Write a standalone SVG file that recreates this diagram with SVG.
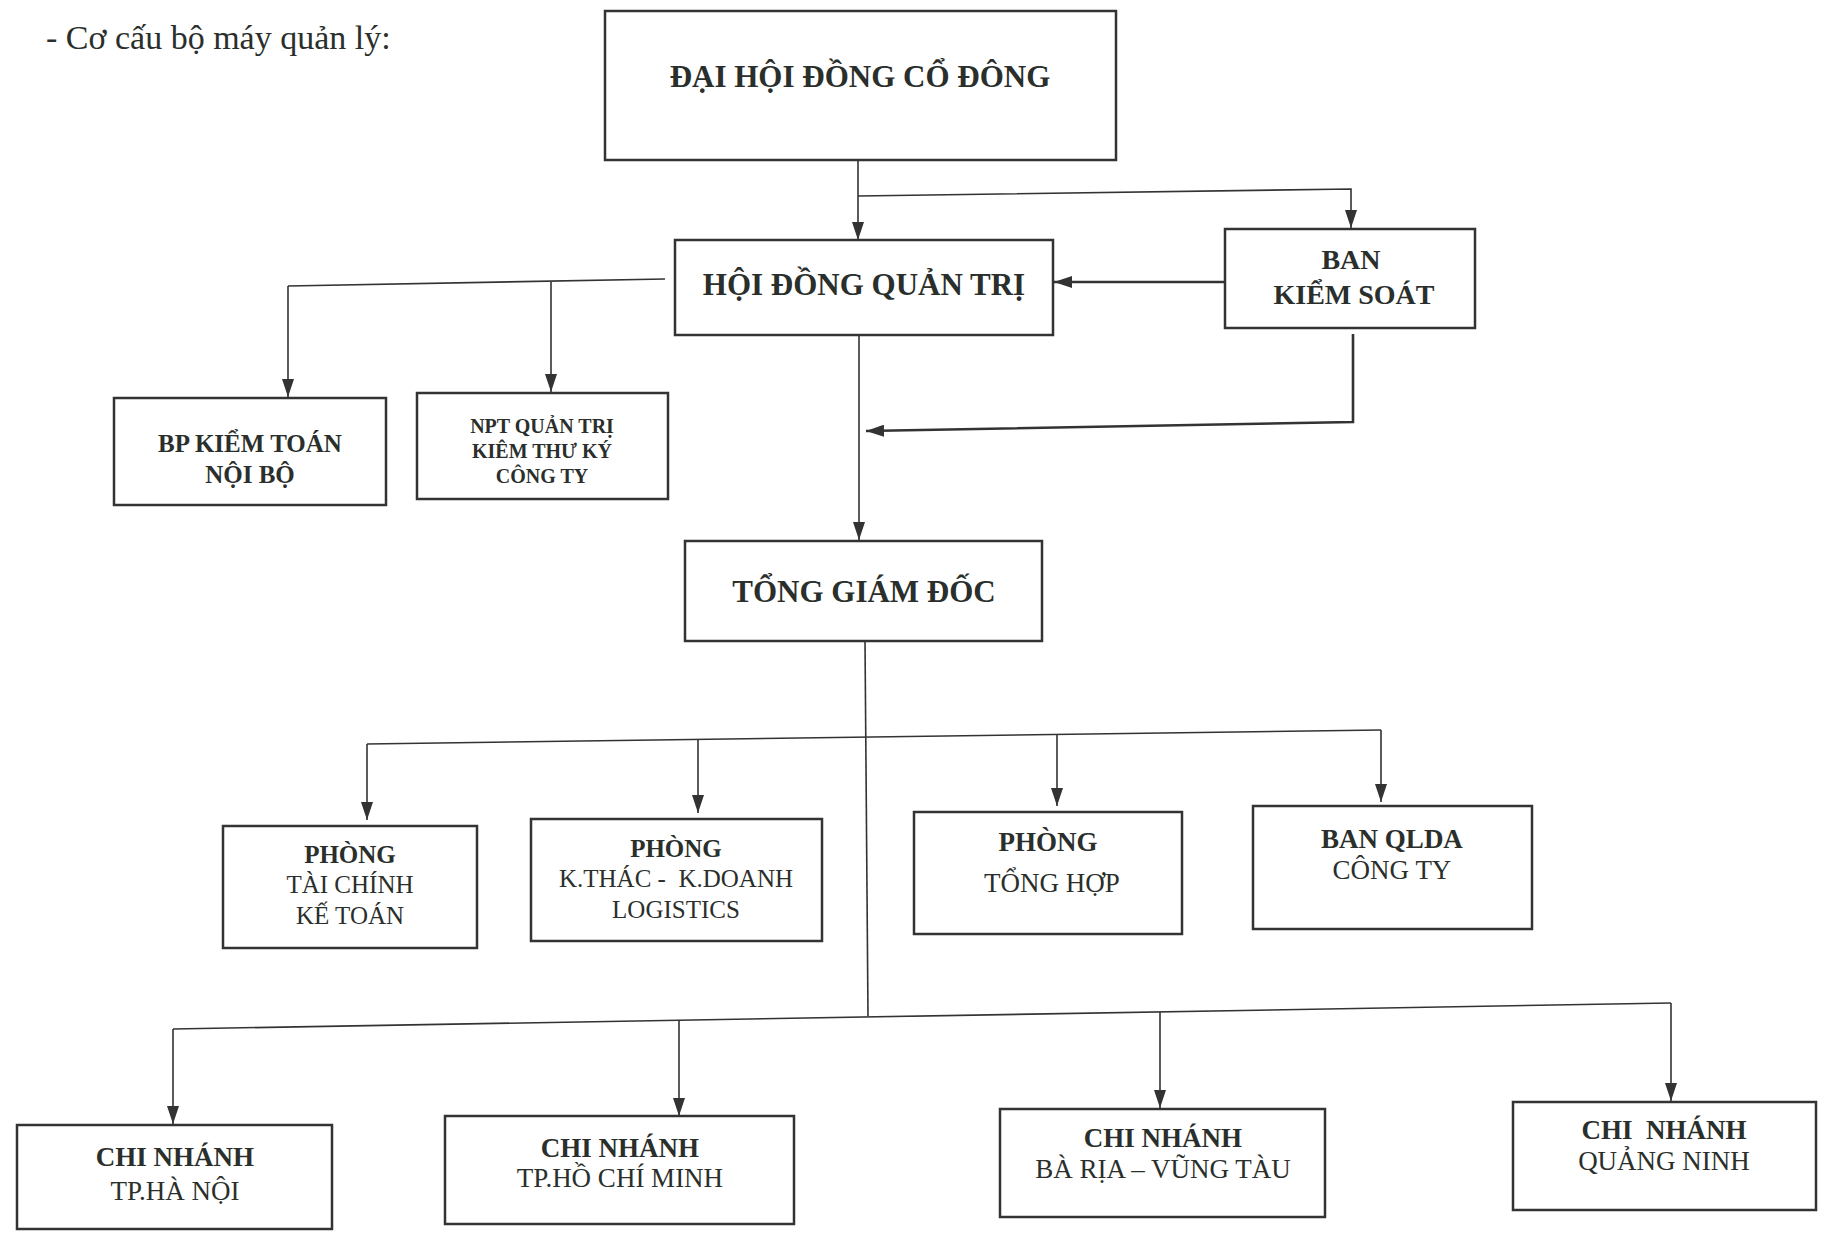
<svg xmlns="http://www.w3.org/2000/svg" width="1821" height="1239" viewBox="0 0 1821 1239">
<defs>
<marker id="arr" markerUnits="userSpaceOnUse" markerWidth="18" markerHeight="12" refX="18" refY="6" orient="auto">
<path d="M0,0 L18,6 L0,12 z" fill="#333"/>
</marker>
</defs>
<style>
.box{fill:#fff;stroke:#333;stroke-width:2.5}
.ln{fill:none;stroke:#333;stroke-width:1.6}
.ar{fill:none;stroke:#333;stroke-width:1.6;marker-end:url(#arr)}
.thick{stroke-width:2.6}
text{font-family:"Liberation Serif","Times New Roman",serif;fill:#2a2f2c;text-anchor:middle}
.b{font-weight:bold}
</style>
<rect width="1821" height="1239" fill="#fff"/>
<text x="46" y="49" style="text-anchor:start;font-size:34px">- Cơ cấu bộ máy quản lý:</text>

<g id="connectors">
<path class="ar" d="M858,160 L858,240"/>
<path class="ar" d="M858,196 L1351,189 L1351,228"/>
<path class="ar thick" d="M1225,282 L1054,282"/>
<path class="ln" d="M665,279 L288,286"/>
<path class="ar" d="M288,286 L288,397"/>
<path class="ar" d="M551,282 L551,392"/>
<path class="ar" d="M859,336 L859,540"/>
<path class="ar thick" d="M1353,334 L1353,422 L866,431"/>
<path class="ln" d="M865,641 L868,1016"/>
<path class="ln" d="M367,744 L1381,730"/>
<path class="ar" d="M367,744 L367,820"/>
<path class="ar" d="M698,740 L698,813"/>
<path class="ar" d="M1057,735 L1057,806"/>
<path class="ar" d="M1381,730 L1381,802"/>
<path class="ln" d="M173,1029 L1671,1003"/>
<path class="ar" d="M173,1029 L173,1124"/>
<path class="ar" d="M679,1020 L679,1116"/>
<path class="ar" d="M1160,1012 L1160,1108"/>
<path class="ar" d="M1671,1003 L1671,1101"/>
</g>

<g id="dhdcd">
<rect class="box" x="605" y="11" width="511" height="149"/>
<text class="b" x="860" y="87" style="font-size:31px">ĐẠI HỘI ĐỒNG CỔ ĐÔNG</text>
</g>
<g id="hdqt">
<rect class="box" x="675" y="240" width="378" height="95"/>
<text class="b" x="864" y="295" style="font-size:31px">HỘI ĐỒNG QUẢN TRỊ</text>
</g>
<g id="bks">
<rect class="box" x="1225" y="229" width="250" height="99"/>
<text class="b" x="1351" y="269" style="font-size:28px">BAN</text>
<text class="b" x="1354" y="304" style="font-size:28px">KIỂM SOÁT</text>
</g>
<g id="bpkt">
<rect class="box" x="114" y="398" width="272" height="107"/>
<text class="b" x="250" y="452" style="font-size:25px">BP KIỂM TOÁN</text>
<text class="b" x="250" y="483" style="font-size:25px">NỘI BỘ</text>
</g>
<g id="npt">
<rect class="box" x="417" y="393" width="251" height="106"/>
<text class="b" x="542" y="433" style="font-size:20px">NPT QUẢN TRỊ</text>
<text class="b" x="542" y="458" style="font-size:20px">KIÊM THƯ KÝ</text>
<text class="b" x="542" y="483" style="font-size:20px">CÔNG TY</text>
</g>
<g id="tgd">
<rect class="box" x="685" y="541" width="357" height="100"/>
<text class="b" x="864" y="602" style="font-size:31px">TỔNG GIÁM ĐỐC</text>
</g>
<g id="ptckt">
<rect class="box" x="223" y="826" width="254" height="122"/>
<text class="b" x="350" y="863" style="font-size:25px">PHÒNG</text>
<text x="350" y="893" style="font-size:25px">TÀI CHÍNH</text>
<text x="350" y="924" style="font-size:25px">KẾ TOÁN</text>
</g>
<g id="pktkd">
<rect class="box" x="531" y="819" width="291" height="122"/>
<text class="b" x="676" y="857" style="font-size:25px">PHÒNG</text>
<text x="676" y="887" style="font-size:25px;white-space:pre">K.THÁC -  K.DOANH</text>
<text x="676" y="918" style="font-size:25px">LOGISTICS</text>
</g>
<g id="pth">
<rect class="box" x="914" y="812" width="268" height="122"/>
<text class="b" x="1048" y="851" style="font-size:27px">PHÒNG</text>
<text x="1052" y="892" style="font-size:27px">TỔNG HỢP</text>
</g>
<g id="bqlda">
<rect class="box" x="1253" y="806" width="279" height="123"/>
<text class="b" x="1392" y="848" style="font-size:27px">BAN QLDA</text>
<text x="1392" y="879" style="font-size:27px">CÔNG TY</text>
</g>
<g id="cnhn">
<rect class="box" x="17" y="1125" width="315" height="104"/>
<text class="b" x="175" y="1166" style="font-size:27px">CHI NHÁNH</text>
<text x="175" y="1200" style="font-size:27px">TP.HÀ NỘI</text>
</g>
<g id="cnhcm">
<rect class="box" x="445" y="1116" width="349" height="108"/>
<text class="b" x="620" y="1157" style="font-size:27px">CHI NHÁNH</text>
<text x="620" y="1187" style="font-size:27px">TP.HỒ CHÍ MINH</text>
</g>
<g id="cnbr">
<rect class="box" x="1000" y="1109" width="325" height="108"/>
<text class="b" x="1163" y="1147" style="font-size:27px">CHI NHÁNH</text>
<text x="1163" y="1178" style="font-size:27px">BÀ RỊA – VŨNG TÀU</text>
</g>
<g id="cnqn">
<rect class="box" x="1513" y="1102" width="303" height="108"/>
<text class="b" x="1664" y="1139" style="font-size:27px;white-space:pre">CHI  NHÁNH</text>
<text x="1664" y="1170" style="font-size:27px">QUẢNG NINH</text>
</g>
</svg>
